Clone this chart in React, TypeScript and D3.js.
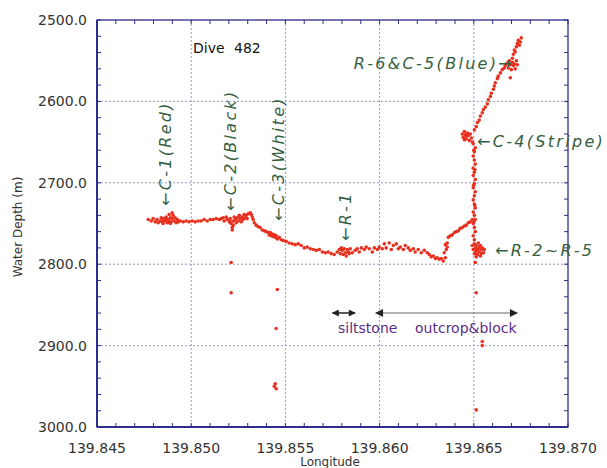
import * as d3 from "d3";

type Pt = [number, number]; // [longitude, water depth (m)]

const xTicks = [139.845, 139.85, 139.855, 139.86, 139.865, 139.87];
const yTicks = [2500, 2600, 2700, 2800, 2900, 3000];

const c1Cluster: Pt[] = [
  [139.84772, 2745], [139.84788, 2747], [139.84798, 2744], [139.84809, 2748], [139.84819, 2745],
  [139.84825, 2749], [139.84835, 2747], [139.84841, 2743], [139.84846, 2748], [139.84851, 2750],
  [139.84857, 2744], [139.84862, 2747], [139.84867, 2742], [139.84873, 2749], [139.84878, 2745],
  [139.84883, 2739], [139.84889, 2743], [139.84894, 2748], [139.84899, 2737], [139.84899, 2744],
  [139.84904, 2740], [139.8491, 2747], [139.84915, 2743], [139.8492, 2749], [139.84926, 2745],
  [139.84931, 2748], [139.84867, 2745], [139.84883, 2748], [139.84851, 2745], [139.84889, 2750],
];

const flatTrack: Pt[] = [
  [139.84942, 2747], [139.84958, 2748], [139.84973, 2747], [139.84989, 2748], [139.85005, 2747],
  [139.85021, 2748], [139.85037, 2747], [139.85053, 2747], [139.85069, 2745], [139.85085, 2747],
  [139.85101, 2745], [139.85117, 2745], [139.85133, 2744], [139.85149, 2745],
];

const c2Cluster: Pt[] = [
  [139.85159, 2744], [139.8517, 2743], [139.85175, 2747], [139.85186, 2742], [139.85191, 2745],
  [139.85202, 2748], [139.85207, 2744], [139.85212, 2750], [139.85218, 2755], [139.85218, 2758],
  [139.85223, 2747], [139.85228, 2742], [139.85234, 2745], [139.85239, 2749], [139.85244, 2743],
  [139.8525, 2747], [139.85255, 2740], [139.8526, 2744], [139.85266, 2748], [139.85271, 2742],
  [139.85276, 2745], [139.85281, 2739], [139.85287, 2743], [139.85292, 2740], [139.85297, 2744],
  [139.85207, 2748], [139.85223, 2752],
  [139.85303, 2738], [139.85313, 2737], [139.85319, 2739], [139.85324, 2742], [139.85329, 2745],
  [139.85335, 2749], [139.85345, 2752],
];

const descentTrack: Pt[] = [
  [139.85356, 2754], [139.85366, 2755], [139.85377, 2758], [139.85388, 2759], [139.85398, 2760],
  [139.85409, 2761], [139.85414, 2764], [139.85419, 2761], [139.85425, 2765], [139.8543, 2763],
  [139.85435, 2766], [139.85441, 2764], [139.85446, 2767], [139.85451, 2765], [139.85457, 2769],
  [139.85467, 2767], [139.85478, 2770], [139.85489, 2771], [139.85504, 2772], [139.8552, 2774],
  [139.85536, 2775], [139.85552, 2776], [139.85568, 2775], [139.85584, 2777], [139.856, 2780],
  [139.85616, 2779], [139.85632, 2781], [139.85648, 2782], [139.85664, 2783], [139.8568, 2782],
  [139.85696, 2785], [139.85712, 2786], [139.85727, 2785], [139.85743, 2787], [139.85759, 2788],
];

const r1Cluster: Pt[] = [
  [139.85775, 2785], [139.85786, 2782], [139.85791, 2787], [139.85797, 2780], [139.85802, 2783],
  [139.85807, 2788], [139.85812, 2781], [139.85818, 2786], [139.85823, 2790], [139.85828, 2782],
  [139.85834, 2785], [139.85839, 2787], [139.85844, 2781], [139.85855, 2786],
];

const midTrack: Pt[] = [
  [139.85871, 2783], [139.85881, 2781], [139.85892, 2785], [139.85903, 2780], [139.85919, 2782],
  [139.85929, 2779], [139.85945, 2781], [139.85961, 2785], [139.85972, 2780], [139.85988, 2782],
  [139.85998, 2779], [139.86014, 2781], [139.86025, 2775], [139.86035, 2780], [139.86051, 2774],
  [139.86062, 2782], [139.86073, 2777], [139.86089, 2775], [139.86099, 2781], [139.8611, 2779],
  [139.86126, 2782], [139.86136, 2777], [139.86152, 2780], [139.86163, 2783], [139.86179, 2781],
  [139.86189, 2785], [139.86205, 2782], [139.86221, 2786], [139.86237, 2783], [139.86253, 2786],
  [139.86264, 2788], [139.86274, 2791], [139.86285, 2790], [139.86296, 2793], [139.86306, 2792],
  [139.86317, 2794], [139.86328, 2793], [139.86338, 2796], [139.86349, 2792],
  [139.86343, 2786], [139.86354, 2782], [139.86359, 2779], [139.86349, 2776], [139.86359, 2774],
];

const riseTrack: Pt[] = [
  [139.86365, 2767], [139.86375, 2765], [139.86386, 2764], [139.86397, 2761], [139.86407, 2760],
  [139.86418, 2759], [139.86428, 2756], [139.86439, 2755], [139.8645, 2753], [139.8646, 2752],
  [139.86471, 2749], [139.86481, 2748], [139.86492, 2745],
];

const verticalTrack: Pt[] = [
  [139.86503, 2770], [139.86497, 2765], [139.86508, 2760], [139.86503, 2755], [139.86497, 2750],
  [139.86508, 2745], [139.86503, 2740], [139.86497, 2736], [139.86508, 2731], [139.86503, 2726],
  [139.86497, 2721], [139.86503, 2716], [139.86508, 2711], [139.86497, 2706], [139.86503, 2701],
  [139.86508, 2696], [139.86497, 2691], [139.86503, 2687], [139.86497, 2682], [139.86508, 2677],
  [139.86503, 2672], [139.86497, 2667], [139.86503, 2662], [139.86508, 2657], [139.86497, 2652],
  [139.86501, 2748], [139.86505, 2728], [139.86499, 2703], [139.86506, 2684], [139.865, 2660],
];

const r2r5Cluster: Pt[] = [
  [139.86492, 2777], [139.86497, 2782], [139.86503, 2775], [139.86508, 2780], [139.86508, 2786],
  [139.86513, 2777], [139.86519, 2783], [139.86519, 2788], [139.86524, 2774], [139.86524, 2781],
  [139.86529, 2785], [139.86535, 2777], [139.86535, 2790], [139.8654, 2782], [139.86545, 2780],
  [139.86551, 2786], [139.86556, 2782], [139.86513, 2791], [139.86503, 2787], [139.86529, 2779],
  [139.86513, 2783], [139.8654, 2787],
];

const c4Cluster: Pt[] = [
  [139.86439, 2640], [139.86444, 2644], [139.8645, 2637], [139.86455, 2641], [139.8646, 2646],
  [139.86466, 2639], [139.86471, 2642], [139.86476, 2648], [139.86481, 2640], [139.86487, 2645],
  [139.86492, 2650], [139.8646, 2642], [139.8645, 2647],
];

const upperTrack: Pt[] = [
  [139.86503, 2635], [139.86513, 2631], [139.86519, 2626], [139.86529, 2623], [139.86535, 2618],
  [139.86545, 2614], [139.86551, 2610], [139.86561, 2607], [139.86572, 2603], [139.86577, 2598],
  [139.86588, 2594], [139.86593, 2590], [139.86604, 2585], [139.86609, 2581], [139.86614, 2577],
  [139.86625, 2572], [139.8663, 2569], [139.86641, 2565], [139.86651, 2561], [139.86662, 2559],
];

const r6Cluster: Pt[] = [
  [139.86667, 2556], [139.86678, 2553], [139.86683, 2559], [139.86689, 2550], [139.86694, 2555],
  [139.86699, 2561], [139.86705, 2552], [139.8671, 2556], [139.86715, 2554], [139.8672, 2560],
  [139.86726, 2550], [139.86731, 2555], [139.86694, 2571],
  [139.86705, 2547], [139.8671, 2542], [139.86715, 2537], [139.86726, 2533], [139.86731, 2529],
  [139.86736, 2525], [139.86747, 2527], [139.86752, 2522], [139.86742, 2531], [139.8672, 2539],
];

const outliers: Pt[] = [
  [139.85212, 2798], [139.85212, 2835], [139.85457, 2831], [139.85451, 2879], [139.85446, 2947],
  [139.85441, 2950], [139.85451, 2953], [139.86508, 2798], [139.86513, 2835], [139.86545, 2895],
  [139.86545, 2900], [139.86513, 2979],
];

const siltstoneRange: [number, number] = [139.8575, 139.8587];
const outcropRange: [number, number] = [139.8598, 139.8673];

const allPoints: Pt[] = [
  ...c1Cluster, ...flatTrack, ...c2Cluster, ...descentTrack, ...r1Cluster, ...midTrack,
  ...riseTrack, ...verticalTrack, ...r2r5Cluster, ...c4Cluster, ...upperTrack, ...r6Cluster,
  ...outliers,
];

const W = 607;
const H = 468;
const plot = { left: 97, right: 568, top: 20, bottom: 427 };
const axisColor = "#2d2d8c";
const gridColor = "#8f9cc4";
const green = "#35603f";
const purple = "#5b2d88";
const font = "'DejaVu Sans', Verdana, sans-serif";

export default function App() {
  const x = d3.scaleLinear().domain([139.845, 139.87]).range([plot.left, plot.right]);
  const y = d3.scaleLinear().domain([2500, 3000]).range([plot.top, plot.bottom]);
  const xMinor = x.ticks(25);
  const yMinor = y.ticks(25);

  const noteStyle = {
    fontFamily: font,
    fontStyle: "italic" as const,
    fontSize: 16,
    letterSpacing: 2.3,
    fill: green,
  };
  const vNote = (label: string, px: number, py: number) => (
    <text transform={`translate(${px},${py}) rotate(-90)`} style={noteStyle}>
      {label}
    </text>
  );

  return (
    <div style={{ position: "absolute", left: 0, top: 0 }}>
      <svg width={W} height={H} style={{ display: "block", background: "#fff" }}>
        <defs>
          <marker id="headBig" viewBox="0 0 10 10" refX="9" refY="5" markerWidth="12" markerHeight="8"
            markerUnits="userSpaceOnUse" orient="auto-start-reverse">
            <path d="M0,0 L10,5 L0,10 z" fill="#222" />
          </marker>
          <marker id="headSmall" viewBox="0 0 10 10" refX="9" refY="5" markerWidth="8" markerHeight="7"
            markerUnits="userSpaceOnUse" orient="auto-start-reverse">
            <path d="M0,0 L10,5 L0,10 z" fill="#222" />
          </marker>
        </defs>

        {/* grid */}
        {xTicks.slice(1, -1).map((t) => (
          <line key={`gx${t}`} x1={x(t)} x2={x(t)} y1={plot.top} y2={plot.bottom}
            stroke={gridColor} strokeWidth={1} strokeDasharray="2,2" />
        ))}
        {yTicks.slice(1, -1).map((t) => (
          <line key={`gy${t}`} x1={plot.left} x2={plot.right} y1={y(t)} y2={y(t)}
            stroke={gridColor} strokeWidth={1} strokeDasharray="2,2" />
        ))}

        {/* minor ticks on all four sides */}
        {xMinor.map((t) => (
          <g key={`tx${t}`} stroke={axisColor} strokeWidth={1}>
            <line x1={x(t)} x2={x(t)} y1={plot.bottom} y2={plot.bottom - 4} />
            <line x1={x(t)} x2={x(t)} y1={plot.top} y2={plot.top + 4} />
          </g>
        ))}
        {yMinor.map((t) => (
          <g key={`ty${t}`} stroke={axisColor} strokeWidth={1}>
            <line x1={plot.left} x2={plot.left + 4} y1={y(t)} y2={y(t)} />
            <line x1={plot.right} x2={plot.right - 4} y1={y(t)} y2={y(t)} />
          </g>
        ))}

        {/* frame */}
        <rect x={plot.left} y={plot.top} width={plot.right - plot.left} height={plot.bottom - plot.top}
          fill="none" stroke={axisColor} strokeWidth={1.3} />
        <line x1={plot.left} x2={plot.left} y1={plot.top} y2={plot.bottom} stroke={axisColor} strokeWidth={2} />
        <line x1={plot.left} x2={plot.right} y1={plot.bottom} y2={plot.bottom} stroke={axisColor} strokeWidth={2} />

        {/* tick labels */}
        {yTicks.map((t) => (
          <text key={`ly${t}`} x={87} y={y(t) + 5} textAnchor="end"
            style={{ fontFamily: font, fontSize: 14, fill: "#333" }}>
            {t.toFixed(1)}
          </text>
        ))}
        {xTicks.map((t) => (
          <text key={`lx${t}`} x={x(t)} y={453} textAnchor="middle"
            style={{ fontFamily: font, fontSize: 14, fill: "#333" }}>
            {t.toFixed(3)}
          </text>
        ))}
        <text x={330} y={466} textAnchor="middle" style={{ fontFamily: font, fontSize: 12, fill: "#333" }}>
          Longitude
        </text>
        <text transform={`translate(22,227) rotate(-90)`} textAnchor="middle"
          style={{ fontFamily: font, fontSize: 12, fill: "#333" }}>
          Water Depth (m)
        </text>

        {/* track points */}
        {allPoints.map((d, i) => (
          <circle key={i} cx={x(d[0])} cy={y(d[1])} r={1.8} fill="#e8301f" />
        ))}

        {/* annotations */}
        <text x={193} y={53} style={{ fontFamily: font, fontSize: 14, fill: "#111" }}>Dive</text>
        <text x={234} y={53} style={{ fontFamily: font, fontSize: 14, fill: "#111" }}>482</text>

        {vNote("←C-1(Red)", 171, 206)}
        {vNote("←C-2(Black)", 236, 211)}
        {vNote("←C-3(White)", 284, 221)}
        {vNote("←R-1", 351, 241)}
        <text x={514} y={69} textAnchor="end" style={noteStyle}>R-6&amp;C-5(Blue)→</text>
        <text x={477} y={147} style={noteStyle}>←C-4(Stripe)</text>
        <text x={495} y={256} style={noteStyle}>←R-2~R-5</text>

        {/* range arrows */}
        <line x1={x(siltstoneRange[0])} x2={x(siltstoneRange[1])} y1={313} y2={313}
          stroke="#222" strokeWidth={1.5} markerStart="url(#headSmall)" markerEnd="url(#headSmall)" />
        <line x1={x(outcropRange[0])} x2={x(outcropRange[1])} y1={313} y2={313}
          stroke="#666" strokeWidth={1} markerStart="url(#headBig)" markerEnd="url(#headBig)" />
        <text x={338} y={333} style={{ fontFamily: font, fontSize: 14, fill: purple }}>siltstone</text>
        <text x={415} y={333} style={{ fontFamily: font, fontSize: 14, fill: purple }}>outcrop&amp;block</text>
      </svg>
    </div>
  );
}
